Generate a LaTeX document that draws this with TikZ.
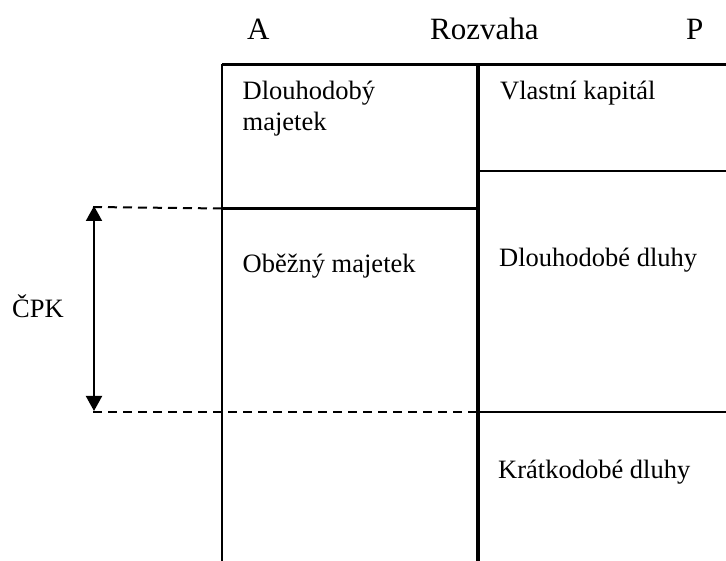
\documentclass[tikz,border=0pt]{standalone}
\usepackage{fontspec}
\setmainfont{Liberation Serif}
\usetikzlibrary{arrows.meta}
\begin{document}
\begin{tikzpicture}[x=1pt,y=-1pt,
  thinline/.style={line width=2.2pt},
  thickline/.style={line width=3.8pt},
  dashline/.style={line width=2pt,dash pattern=on 9pt off 6pt},
  body/.style={anchor=base west,inner sep=0pt,font=\fontsize{26.5}{31}\selectfont},
  head/.style={anchor=base west,inner sep=0pt,font=\fontsize{31}{36}\selectfont}]
\useasboundingbox (0,0) rectangle (726,561);
% coordinates
\coordinate (tl) at (222,64.5);
\coordinate (tm) at (478,64.5);
\coordinate (tr) at (726,64.5);
\coordinate (bl) at (222,561);
\coordinate (bm) at (478,561);
\coordinate (ml) at (222,208.5);
\coordinate (mm) at (478,208.5);
\coordinate (rm) at (478,171);
\coordinate (rr) at (726,171);
\coordinate (dtl) at (93,207);
\coordinate (dbl) at (93,412);
\coordinate (dbm) at (478,412);
\coordinate (dbr) at (726,412);
\coordinate (at) at (94,206);
\coordinate (ab) at (94,411);
% lines
\draw[thinline] (tl) -- (tr);
\draw[thinline] (tl) -- (bl);
\draw[thickline] (tm) -- (bm);
\draw[thinline] (ml) -- (mm);
\draw[thinline] (rm) -- (rr);
\draw[thinline] (dbm) -- (dbr);
\draw[dashline] (dtl) -- (ml);
\draw[dashline] (dbl) -- (dbm);
\draw[line width=2pt,{Triangle[length=15pt,width=16pt]}-{Triangle[length=15pt,width=16pt]}] (at) -- (ab);
% texts
\node[head] (A) at (247,40) {A};
\node[head] (R) at (430,40) {Rozvaha};
\node[head] (P) at (686,40) {P};
\node[body] (dm) at (242.5,100) {Dlouhodobý};
\node[body] (dm2) at (242.5,131) {majetek};
\node[body] (vk) at (500,100) {Vlastní kapitál};
\node[body] (om) at (242.5,273) {Oběžný majetek};
\node[body] (dd) at (499,267) {Dlouhodobé dluhy};
\node[body] (kd) at (498,478) {Krátkodobé dluhy};
\node[body] (cpk) at (12,318) {ČPK};
\end{tikzpicture}
\end{document}
